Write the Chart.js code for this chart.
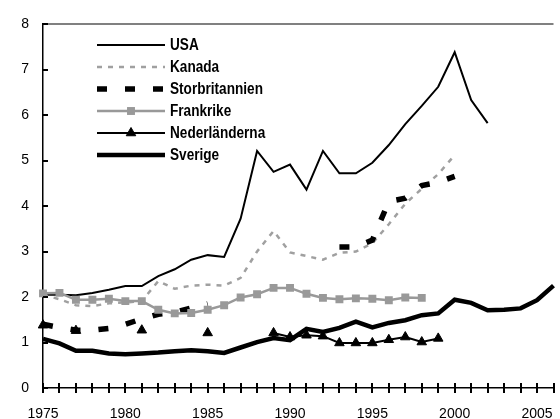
<!DOCTYPE html>
<html lang="sv">
<head>
<meta charset="UTF-8">
<script src="https://cdn.jsdelivr.net/npm/chart.js"></script>
<title>Utveckling 1975-2006</title>
<style>
  html, body { margin: 0; padding: 0; background: #fff; }
</style>
</head>
<body>
<canvas id="myChart" width="560" height="419"></canvas>
<script>
const years = [1975, 1976, 1977, 1978, 1979, 1980, 1981, 1982, 1983, 1984, 1985, 1986, 1987, 1988, 1989, 1990,
               1991, 1992, 1993, 1994, 1995, 1996, 1997, 1998, 1999, 2000, 2001, 2002, 2003, 2004, 2005, 2006];
const tickYears = [1975, 1980, 1985, 1990, 1995, 2000, 2005];

const usa = [2.05, 2.05, 2.04, 2.09, 2.16, 2.24, 2.24, 2.46, 2.61, 2.82, 2.92, 2.88, 3.72, 5.21, 4.75, 4.91,
             4.36, 5.21, 4.72, 4.72, 4.95, 5.34, 5.8, 6.2, 6.62, 7.38, 6.33, 5.82];
const kanada = [2.05, 1.95, 1.82, 1.8, 1.86, 1.88, 1.91, 2.35, 2.18, 2.25, 2.27, 2.25, 2.42, 3.0, 3.45, 2.98,
                2.9, 2.82, 2.97, 3.0, 3.18, 3.6, 4.05, 4.38, 4.7, 5.12];
const storbritannien = [1.4, 1.33, 1.27, 1.27, 1.31, 1.4, 1.52, 1.62, 1.66, 1.76, 1.85, null, null, null, null, null,
                        null, null, 3.1, 3.1, 3.25, 4.1, 4.17, 4.45, 4.52, 4.65];
const frankrike = [2.08, 2.09, 1.94, 1.94, 1.96, 1.91, 1.91, 1.72, 1.64, 1.65, 1.72, 1.82, 1.99, 2.06, 2.2, 2.2,
                   2.07, 1.98, 1.95, 1.97, 1.96, 1.93, 1.99, 1.98];
const nederlanderna = [1.38, null, 1.26, null, null, null, 1.27, null, null, null, 1.21, null, null, null, 1.21, 1.12,
                       1.16, 1.14, 0.99, 0.99, 0.99, 1.06, 1.12, 1.01, 1.09];
const sverige = [1.08, 0.98, 0.82, 0.82, 0.76, 0.74, 0.76, 0.78, 0.81, 0.83, 0.81, 0.77, 0.89, 1.01, 1.1, 1.05,
                 1.3, 1.23, 1.32, 1.46, 1.33, 1.43, 1.49, 1.6, 1.64, 1.94, 1.87, 1.71, 1.72, 1.75, 1.93, 2.25];

const FONT = '"Liberation Sans", Arial, sans-serif';

const datasets = [
  { label: 'USA', data: usa, borderColor: '#000', borderWidth: 2, pointRadius: 0, order: 6 },
  { label: 'Kanada', data: kanada, borderColor: '#a0a0a0', borderWidth: 2.5, borderDash: [5, 6], pointRadius: 0, order: 5 },
  { label: 'Storbritannien', data: storbritannien, borderColor: '#000', borderWidth: 5.5, borderDash: [10, 18], pointRadius: 0, order: 4 },
  { label: 'Frankrike', data: frankrike, borderColor: '#999999', backgroundColor: '#999999', borderWidth: 2.5,
    pointStyle: 'rect', pointRadius: 5.6, pointBorderWidth: 0, order: 3 },
  { label: 'Nederländerna', data: nederlanderna, borderColor: '#000', backgroundColor: '#000', borderWidth: 2,
    pointStyle: 'triangle', pointRadius: 5.5, pointBorderWidth: 1, order: 2 },
  { label: 'Sverige', data: sverige, borderColor: '#000', borderWidth: 4.5, pointRadius: 0, order: 1 }
];

// top frame line, tick marks and the legend inside the plot
const extras = {
  id: 'extras',
  afterDraw(chart) {
    const { ctx, chartArea: a, scales: { x, y } } = chart;
    ctx.save();
    ctx.setLineDash([]);
    ctx.fillStyle = '#808080';
    ctx.fillRect(a.left, Math.round(a.top) - 1, a.right - a.left, 2);

    ctx.fillStyle = '#000';
    const bot = Math.round(a.bottom);
    x.ticks.forEach((t, i) => {
      const px = Math.round(x.getPixelForTick(i));
      ctx.fillRect(px - 1, bot - 5, 2, 10);
    });
    y.ticks.forEach((t, i) => {
      const py = Math.round(y.getPixelForTick(i));
      ctx.fillRect(a.left, py - 1, 5, 2);
    });

    // legend
    const x0 = 97, x1 = 165;
    chart.data.datasets.forEach((ds, i) => {
      const ly = 45 + i * 22;
      ctx.setLineDash(ds.borderDash || []);
      ctx.lineWidth = ds.borderWidth;
      ctx.strokeStyle = ds.borderColor;
      ctx.lineCap = 'butt';
      ctx.beginPath();
      ctx.moveTo(x0, ly);
      ctx.lineTo(x1, ly);
      ctx.stroke();
      ctx.setLineDash([]);
      if (ds.pointRadius > 0) {
        ctx.fillStyle = ds.backgroundColor;
        ctx.strokeStyle = ds.borderColor;
        ctx.lineWidth = ds.pointBorderWidth;
        Chart.helpers.drawPoint(ctx, {
          pointStyle: ds.pointStyle,
          radius: ds.pointRadius,
          borderWidth: ds.pointBorderWidth,
          rotation: 0
        }, (x0 + x1) / 2, ly);
      }
      // condensed look: squeeze the text horizontally
      ctx.save();
      ctx.translate(170, ly + 1);
      ctx.scale(0.85, 1);
      ctx.fillStyle = '#000';
      ctx.font = 'bold 16px ' + FONT;
      ctx.textBaseline = 'middle';
      ctx.textAlign = 'left';
      ctx.fillText(ds.label, 0, 0);
      ctx.restore();
    });
    ctx.restore();
  }
};

const ctx = document.getElementById('myChart').getContext('2d');
new Chart(ctx, {
  type: 'line',
  data: { labels: years, datasets: datasets },
  options: {
    responsive: false,
    animation: false,
    layout: { padding: { top: 24, right: 0, left: 0, bottom: 0 } },
    plugins: { legend: { display: false }, tooltip: { enabled: false } },
    scales: {
      x: {
        grid: { display: true, drawOnChartArea: false, drawTicks: true, tickLength: 18, color: 'rgba(0,0,0,0)' },
        border: { display: true, color: '#000', width: 1.5 },
        ticks: {
          autoSkip: false,
          maxRotation: 0,
          padding: 0,
          color: '#000',
          font: { family: FONT, size: 14 },
          callback: function (val, i) {
            const yr = years[i];
            return tickYears.includes(yr) ? String(yr) : '';
          }
        },
        afterFit(scale) { scale.height = 31; }
      },
      y: {
        min: 0,
        max: 8,
        grid: { display: true, drawOnChartArea: false, drawTicks: false },
        border: { display: true, color: '#000', width: 1.5 },
        ticks: { stepSize: 1, padding: 14, color: '#000', font: { family: FONT, size: 14 } },
        afterFit(scale) { scale.width = 43; }
      }
    }
  },
  plugins: [extras]
});
</script>
</body>
</html>
